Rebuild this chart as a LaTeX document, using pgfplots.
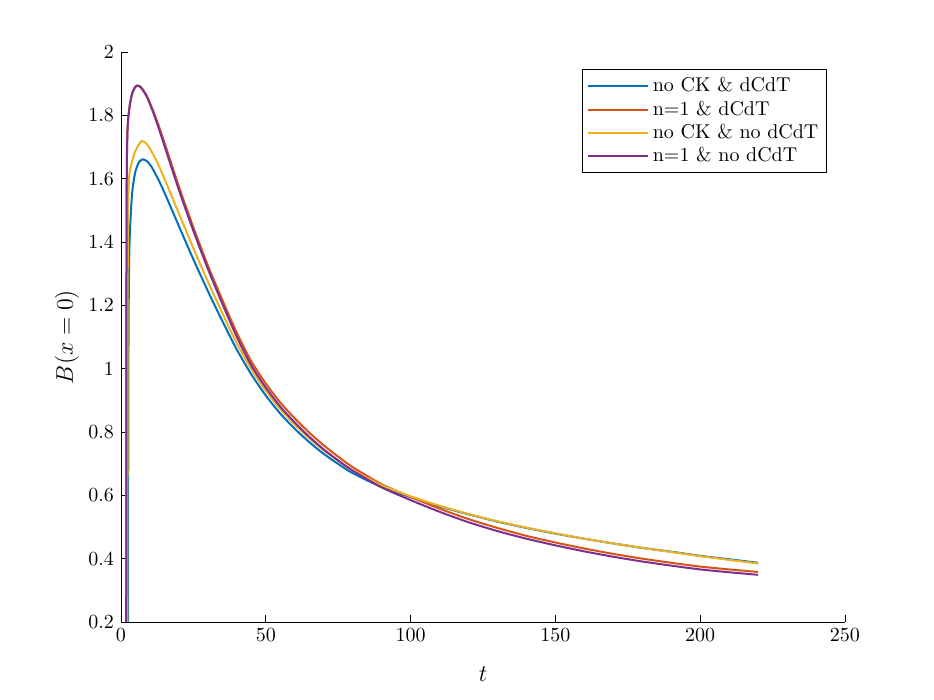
\documentclass[border=0pt]{standalone}
\usepackage{pgfplots}
\pgfplotsset{compat=1.18}
\usepackage{pgfplotstable}
\definecolor{mblue}{rgb}{0,0.447,0.741}
\definecolor{mred}{rgb}{0.85,0.325,0.098}
\definecolor{myellow}{rgb}{0.929,0.694,0.125}
\definecolor{mpurple}{rgb}{0.494,0.184,0.556}

\pgfplotstableread{
t v
2.4 0.1
2.6 1.1
2.9 1.38
3.45 1.50
3.9 1.56
4.5 1.60
5.1 1.627
6.2 1.652
7.5 1.661
9 1.655
10.5 1.638
12 1.613
13.5 1.586
16 1.535
20 1.45
25 1.345
30 1.245
35 1.15
40 1.06
45 0.982
50 0.915
55 0.858
60 0.81
65 0.768
70 0.731
75 0.699
80 0.670
90 0.626
100 0.594
110 0.565
120 0.540
130 0.517
140 0.497
150 0.479
160 0.463
170 0.448
180 0.434
190 0.422
200 0.409
210 0.398
220 0.387
}\blueT

\pgfplotstableread{
t v
1.8 0.1
1.9 1.3
2.0 1.62
2.2 1.74
2.5 1.79
3 1.83
3.5 1.855
4 1.873
4.8 1.888
5.6 1.894
6.5 1.892
7.5 1.882
9 1.860
11 1.817
13 1.768
15.5 1.70
20 1.575
25 1.446
30 1.326
35 1.217
40 1.113
45 1.023
50 0.953
55 0.893
60 0.843
65 0.798
70 0.758
75 0.722
80 0.689
90 0.635
100 0.595
110 0.558
120 0.525
130 0.497
140 0.472
150 0.451
160 0.432
170 0.415
180 0.400
190 0.387
200 0.375
210 0.366
220 0.358
}\redT

\pgfplotstableread{
t v
2.2 0.1
2.3 1.2
2.45 1.5
2.8 1.6
3.1 1.627
4 1.660
4.8 1.684
6 1.705
7.1 1.719
8.5 1.713
10 1.695
11.5 1.670
13.5 1.632
16 1.578
20 1.49
25 1.38
30 1.275
35 1.175
40 1.08
45 0.998
50 0.930
55 0.872
60 0.823
65 0.780
70 0.742
75 0.709
80 0.679
90 0.632
100 0.597
110 0.567
120 0.541
130 0.518
140 0.498
150 0.480
160 0.463
170 0.448
180 0.434
190 0.421
200 0.408
210 0.396
220 0.385
}\yellowT

\pgfplotstableread{
t v
1.8 0.1
1.9 1.3
2.0 1.62
2.2 1.74
2.5 1.79
3 1.83
3.5 1.855
4 1.873
4.8 1.888
5.6 1.894
6.5 1.891
7.5 1.880
9 1.857
11 1.812
13 1.760
15.5 1.69
20 1.564
25 1.435
30 1.315
35 1.205
40 1.10
45 1.01
50 0.94
55 0.88
60 0.83
65 0.785
70 0.745
75 0.710
80 0.678
90 0.625
100 0.585
110 0.548
120 0.515
130 0.487
140 0.463
150 0.442
160 0.423
170 0.406
180 0.391
190 0.378
200 0.366
210 0.357
220 0.349
}\purpleT

\begin{document}
\begin{tikzpicture}
\path[use as bounding box] (-60.5pt,-39pt) rectangle (406.5pt,311pt);
\begin{axis}[
  at={(0,0)}, anchor=south west,
  scale only axis,
  width=362pt, height=285pt,
  xmin=0, xmax=250, ymin=0.2, ymax=2,
  xtick={0,50,...,250},
  ytick={0.2,0.4,...,2.01},
  yticklabels={0.2,0.4,0.6,0.8,1,1.2,1.4,1.6,1.8,2},
  axis x line*=bottom, axis y line*=left,
  tick align=inside,
  major tick length=3.5pt,
  axis line style={line width=0.4pt},
  tick style={line width=0.4pt, black},
  xlabel={$t$}, ylabel={$B(x=0)$},
  label style={font=\large},
  xlabel style={at={(axis description cs:0.5,0)}, anchor=north, yshift=-19pt},
  ylabel style={at={(axis description cs:0,0.5)}, anchor=south, yshift=17.5pt},
  legend style={at={(0.975,0.97)}, anchor=north east, draw=black, line width=0.5pt,
    font=\normalsize, row sep=-1pt, inner sep=2pt, cells={anchor=west}},
  legend cell align=left,
  legend image code/.code={\draw[#1] (0pt,0pt) -- (30pt,0pt);},
  every axis plot/.append style={line width=1pt, smooth, tension=0.4},
  clip=true,
]
\addplot[mblue] table[x=t,y=v] {\blueT};
\addlegendentry{no CK \& dCdT}
\addplot[mred] table[x=t,y=v] {\redT};
\addlegendentry{n=1 \& dCdT}
\addplot[myellow] table[x=t,y=v] {\yellowT};
\addlegendentry{no CK \& no dCdT}
\addplot[mpurple] table[x=t,y=v] {\purpleT};
\addlegendentry{n=1 \& no dCdT}
\end{axis}
\end{tikzpicture}
\end{document}
